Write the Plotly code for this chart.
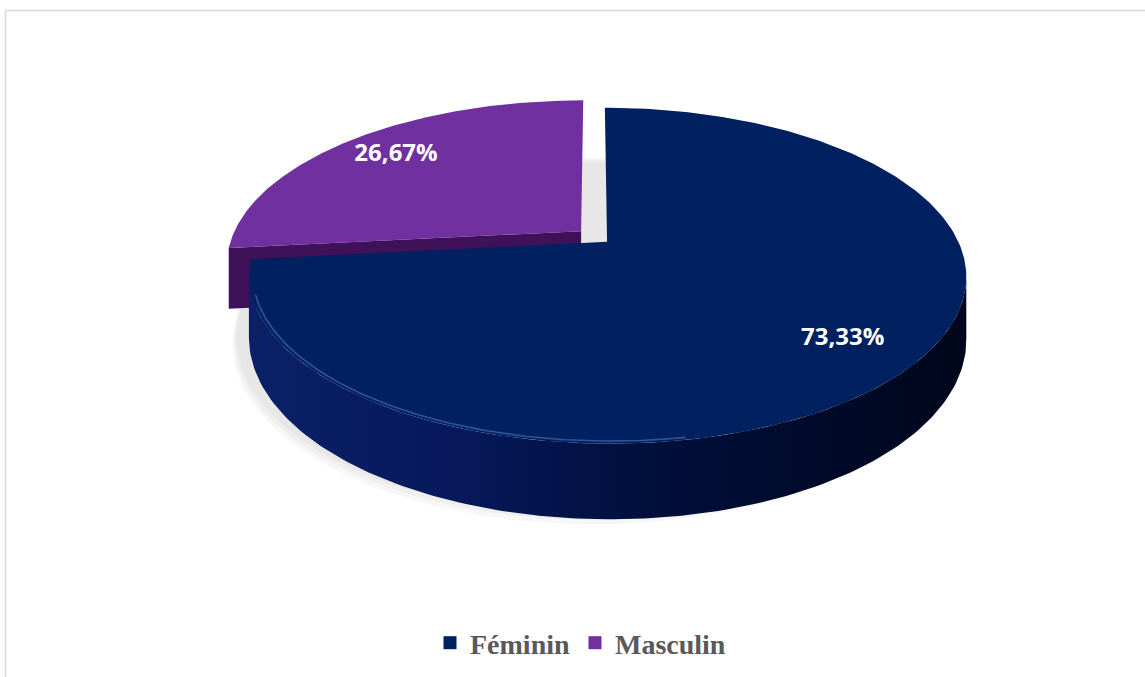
import numpy as np
import plotly.graph_objects as go

# Répartition par sexe (%)
categories = ["Féminin", "Masculin"]
shares = [73.33, 26.67]

# Couleurs : dessus, flanc (dégradé), face de coupe
top_colors = ["#002060", "#7030A0"]
side_scales = [
    [[0, "#0B2066"], [0.3, "#06185A"], [0.55, "#000F3C"], [0.8, "#000A29"], [1, "#00071C"]],
    [[0, "#4A1670"], [1, "#2A0A40"]],
]
cut_colors = ["#0A1848", "#3F1158"]

W, H_PX = 1145, 677

# Géométrie du camembert 3D (projection en perspective d'un disque incliné)
CX, CY = 594.0, 236.5   # centre projeté
RX, RY = 349.0, 159.0   # demi-axes
PERSP = 0.2             # intensité de la perspective
DEPTH = 60.0            # épaisseur du disque
EXPLODE = 0.05          # écartement des parts
START = 90.0            # première part à midi, sens horaire


def project(u, v, z=0.0):
    w = 1.0 + PERSP * np.asarray(v)
    return CX + RX * np.asarray(u) / w, CY - RY * np.asarray(v) / w + DEPTH * z / w


total = sum(shares)
slices = []
a0 = START
for cat, val in zip(categories, shares):
    sweep = val / total * 360.0
    a1 = a0 - sweep
    mid = np.radians((a0 + a1) / 2.0)
    slices.append(dict(cat=cat, val=val, a0=a0, a1=a1,
                       ou=EXPLODE * np.cos(mid), ov=EXPLODE * np.sin(mid), mid=mid))
    a0 = a1

fig = go.Figure()

# Ombre portée sous le disque
for k, d in enumerate([10, 7, 4]):
    t = np.radians(np.linspace(0, 360, 241))
    s = 1.0 + 0.005 * (3 - k)
    xs, ys = project(s * np.cos(t), s * np.sin(t), 1.0)
    fig.add_trace(go.Scatter(x=xs, y=ys + d, mode="lines", fill="toself",
                             fillcolor="rgba(0,0,0,0.03)", line=dict(width=0),
                             hoverinfo="skip", showlegend=False))

# Arc visible du flanc (face tournée vers l'observateur)
sil = np.degrees(np.arcsin(PERSP))
vis_lo, vis_hi = -180.0 + sil, -sil


def draw_slice(i, sl):
    ou, ov = sl["ou"], sl["ov"]
    lo, hi = sl["a1"], sl["a0"]
    # flanc extérieur
    for shift in (-360.0, 0.0, 360.0):
        wlo, whi = max(lo, vis_lo + shift), min(hi, vis_hi + shift)
        if whi > wlo:
            t = np.radians(np.linspace(wlo, whi, 160))
            xt, yt = project(ou + np.cos(t), ov + np.sin(t), 0.0)
            xb, yb = project(ou + np.cos(t), ov + np.sin(t), 1.0)
            fig.add_trace(go.Scatter(
                x=np.concatenate([xt, xb[::-1]]), y=np.concatenate([yt, yb[::-1]]),
                mode="lines", fill="toself", line=dict(width=0),
                fillgradient=dict(type="horizontal", colorscale=side_scales[i]),
                hoverinfo="skip", showlegend=False))
    # faces de coupe : visibles si leur normale pointe vers l'avant (v < 0)
    for ang, nv in ((sl["a0"], np.cos(np.radians(sl["a0"]))),
                    (sl["a1"], -np.cos(np.radians(sl["a1"])))):
        if nv < -0.05:
            r = np.radians(ang)
            xa, ya = project(ou, ov, 0.0)
            xr, yr = project(ou + np.cos(r), ov + np.sin(r), 0.0)
            xrb, yrb = project(ou + np.cos(r), ov + np.sin(r), 1.0)
            xab, yab = project(ou, ov, 1.0)
            fig.add_trace(go.Scatter(
                x=[xa, xr, xrb, xab, xa], y=[ya, yr, yrb, yab, ya],
                mode="lines", fill="toself", fillcolor=cut_colors[i],
                line=dict(width=0), hoverinfo="skip", showlegend=False))
    # dessus de la part
    t = np.radians(np.linspace(sl["a0"], sl["a1"], 300))
    xr, yr = project(ou + np.cos(t), ov + np.sin(t), 0.0)
    xa, ya = project(ou, ov, 0.0)
    fig.add_trace(go.Scatter(
        x=np.concatenate([[xa], xr, [xa]]), y=np.concatenate([[ya], yr, [ya]]),
        mode="lines", fill="toself", fillcolor=top_colors[i],
        line=dict(width=0), hoverinfo="skip", showlegend=False))


# ordre de peinture : de l'arrière vers l'avant
order = sorted(range(len(slices)), key=lambda j: np.sin(slices[j]["mid"]), reverse=True)
for j in order:
    draw_slice(j, slices[j])

# liseré clair sur l'arête avant du dessus
fem = slices[0]
t = np.radians(np.linspace(-162, -80, 120))
xh, yh = project(fem["ou"] + 0.99 * np.cos(t), fem["ov"] + 0.99 * np.sin(t), 0.0)
fig.add_trace(go.Scatter(x=xh, y=yh, mode="lines",
                         line=dict(color="rgba(90,125,205,0.55)", width=1.6),
                         hoverinfo="skip", showlegend=False))

# étiquettes de valeurs
lx, ly, lt = [], [], []
for sl in slices:
    x, y = project(sl["ou"] + 0.8 * np.cos(sl["mid"]), sl["ov"] + 0.8 * np.sin(sl["mid"]), 0.0)
    lx.append(float(x))
    ly.append(float(y))
    lt.append(f"{sl['val']:.2f}".replace(".", ",") + "%")
fig.add_trace(go.Scatter(x=lx, y=ly, mode="text", text=lt,
                         textfont=dict(family="Open Sans", size=24, color="white", weight="bold"),
                         hoverinfo="skip", showlegend=False))

# entrées de légende
for cat, col in zip(categories, top_colors):
    fig.add_trace(go.Scatter(x=[None], y=[None], mode="markers", name=cat,
                             marker=dict(symbol="square", size=13, color=col)))

fig.update_layout(
    width=W, height=H_PX,
    margin=dict(l=0, r=0, t=0, b=0),
    paper_bgcolor="white", plot_bgcolor="white",
    xaxis=dict(range=[0, W], visible=False, fixedrange=True),
    yaxis=dict(range=[H_PX, 0], visible=False, fixedrange=True),
    legend=dict(orientation="h", x=0.5 + 8 / W, xanchor="center",
                y=1 - 643 / H_PX, yanchor="middle", itemwidth=30,
                font=dict(family="Liberation Serif", size=28, color="#595959", weight="bold"),
                bgcolor="rgba(0,0,0,0)"),
    shapes=[dict(type="rect", xref="x", yref="y", x0=5.5, y0=10.5, x1=W + 20, y1=H_PX + 20,
                 line=dict(color="#D9D9D9", width=1.6), fillcolor="rgba(0,0,0,0)", layer="below")],
)

fig.write_html("out.html")
